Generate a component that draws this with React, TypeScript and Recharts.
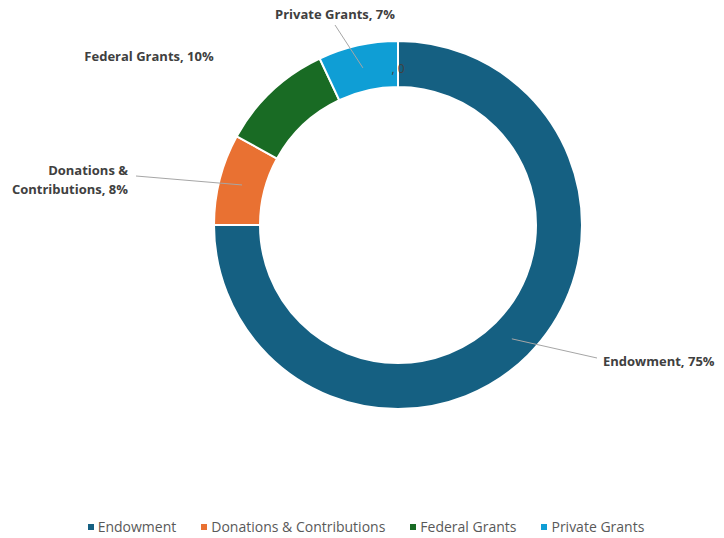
import React from "react";
import { PieChart, Pie, Cell, Legend } from "recharts";

const categories = ["Endowment", "Donations & Contributions", "Federal Grants", "Private Grants", ""];
const values = [75, 8, 10, 7, 0];
const colors = ["#156082", "#E97132", "#196B24", "#0F9ED5", "#156082"];
const labelLines: string[][] = [
  ["Endowment, 75%"],
  ["Donations &", "Contributions, 8%"],
  ["Federal Grants, 10%"],
  ["Private Grants, 7%"],
  [", 0"],
];

// label placement relative to pie centre (px): [dx, dy, anchor, showLeader]
const labelLayout: [number, number, string, boolean][] = [
  [199, 133, "start", true],
  [-262, -49, "end", true],
  [-249, -172, "middle", false],
  [-63, -200, "middle", true],
  [0, 0, "middle", false],
];

const data = categories.map((name, i) => ({ name, value: values[i] }));

const FONT = "'Open Sans', sans-serif";
const RADIAN = Math.PI / 180;

const renderLabel = (props: any) => {
  const { cx, cy, midAngle, innerRadius, outerRadius, index } = props;
  const rMid = (innerRadius + outerRadius) / 2;
  const sx = cx + rMid * Math.cos(-midAngle * RADIAN);
  const sy = cy + rMid * Math.sin(-midAngle * RADIAN);
  const [dx, dy, anchor, leader] = labelLayout[index];
  const lines = labelLines[index];
  if (values[index] === 0) {
    return (
      <text x={sx} y={sy + 4} textAnchor="middle" dominantBaseline="central" fontFamily={FONT} fontSize={12} fill="#404040">
        {lines[0]}
      </text>
    );
  }
  const ex = cx + dx;
  const ey = cy + dy;
  const tx = anchor === "start" ? ex + 6 : anchor === "end" ? ex - 8 : ex;
  const lineH = 19;
  const ty0 = anchor === "middle" && leader ? ey - 11 : ey + 3 - ((lines.length - 1) * lineH) / 2;
  return (
    <g>
      {leader && <polyline points={`${sx},${sy} ${ex},${ey}`} stroke="#A6A6A6" strokeWidth={1} fill="none" />}
      <text x={tx} textAnchor={anchor as any} fontFamily={FONT} fontSize={13} fontWeight="bold" fill="#404040">
        {lines.map((l, i) => (
          <tspan key={i} x={tx} y={ty0 + i * lineH} dominantBaseline="central">
            {l}
          </tspan>
        ))}
      </text>
    </g>
  );
};

const renderLegend = () => (
  <div style={{ display: "flex", justifyContent: "center", gap: 25, fontFamily: FONT, fontSize: 14, color: "#595959", lineHeight: "20px" }}>
    {categories.map((c, i) =>
      values[i] > 0 ? (
        <div key={c} style={{ display: "flex", alignItems: "center" }}>
          <span style={{ display: "inline-block", width: 6, height: 6, background: colors[i], marginRight: 4 }} />
          <span>{c}</span>
        </div>
      ) : null
    )}
  </div>
);

export default function App() {
  return (
    <PieChart width={716} height={530} margin={{ top: 0, right: 0, bottom: 0, left: 0 }}>
      <Pie
        data={data}
        dataKey="value"
        nameKey="name"
        cx={390}
        cy={217}
        outerRadius={184}
        innerRadius={138}
        startAngle={90}
        endAngle={-270}
        stroke="#FFFFFF"
        strokeWidth={2}
        label={renderLabel}
        labelLine={false}
        isAnimationActive={false}
      >
        {data.map((d, i) => (
          <Cell key={i} fill={colors[i]} />
        ))}
      </Pie>
      <Legend content={renderLegend} wrapperStyle={{ top: 509, left: 0, width: 716 }} />
    </PieChart>
  );
}
